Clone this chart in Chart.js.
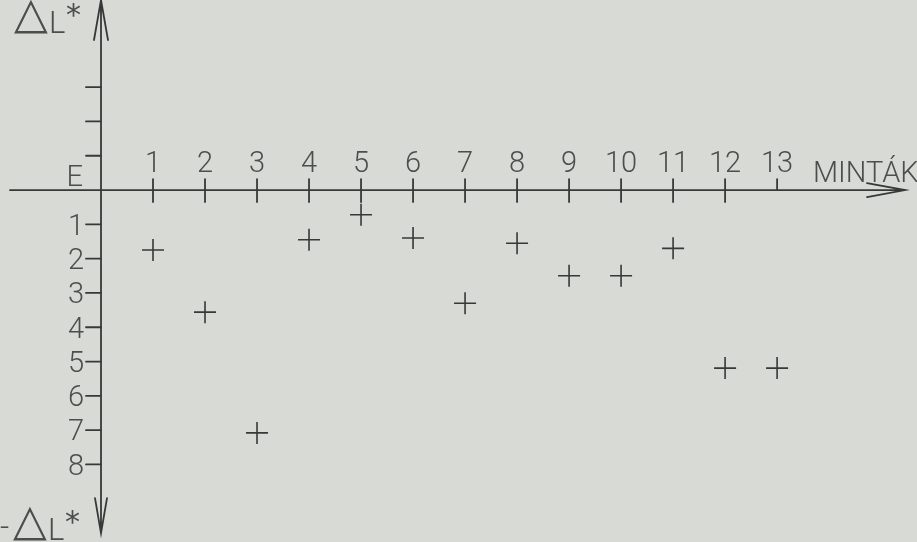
<!DOCTYPE html>
<html>
<head>
<meta charset="utf-8">
<script src="https://cdn.jsdelivr.net/npm/chart.js@4/dist/chart.umd.min.js"></script>
<style>
html,body{margin:0;padding:0;background:#d8dad6;}
#c{display:block;}
</style>
</head>
<body>
<canvas id="c" width="917" height="542"></canvas>
<script>
// ---- data ----
const samples = [1, 2, 3, 4, 5, 6, 7, 8, 9, 10, 11, 12, 13];
const deltaL = [-1.75, -3.56, -7.08, -1.45, -0.72, -1.40, -3.30, -1.55, -2.50, -2.50, -1.70, -5.19, -5.19];
const xTickLabels = ['1','2','3','4','5','6','7','8','9','10','11','12','13'];
const yTickValuesNeg = [-1, -2, -3, -4, -5, -6, -7, -8];
const yTickLabelsNeg = ['1','2','3','4','5','6','7','8'];
const yTickValuesPos = [1, 2, 3];
const yTickLabelsPos = ['E', '', ''];
const xAxisTitle = 'MINTÁK';

const INK = '#383838';
const TXT = '#4c4e4c';
const FONT = '300 29px Roboto, "DejaVu Sans", sans-serif';

function drawDeltaL(c, x, yBase, minus) {
  // draws (-)△L* ; x = left edge of triangle, yBase = baseline
  c.textAlign = 'left';
  c.textBaseline = 'alphabetic';
  if (minus) {
    c.font = '300 32px Roboto, sans-serif';
    c.fillText('-', x - 15, yBase - 3);
  }
  c.font = '44px "DejaVu Sans", sans-serif';
  c.fillText('△', x - 2, yBase - 5);
  c.font = '300 31px Roboto, sans-serif';
  c.fillText('L', x + 33, yBase);
  c.font = '400 30px "DejaVu Sans", sans-serif';
  c.fillText('*', x + 50, yBase - 8);
}

const axesPlugin = {
  id: 'handAxes',
  beforeDraw(chart) {
    const c = chart.ctx;
    c.save();
    c.fillStyle = '#d8dad6';
    c.fillRect(0, 0, chart.width, chart.height);
    c.restore();
  },
  beforeDatasetsDraw(chart) {
    const c = chart.ctx;
    const xs = chart.scales.x, ys = chart.scales.y;
    const X = v => xs.getPixelForValue(v);
    const Y = v => ys.getPixelForValue(v);
    const x0 = X(0), y0 = Y(0);
    c.save();
    c.strokeStyle = INK;
    c.lineWidth = 1.8;
    c.lineCap = 'round';
    // x axis
    const xStart = X(-1.75), xEnd = X(15.46);
    c.beginPath();
    c.moveTo(xStart, y0); c.lineTo(xEnd, y0);
    c.moveTo(xEnd - 38, y0 - 7); c.lineTo(xEnd, y0); c.lineTo(xEnd - 38, y0 + 7);
    c.stroke();
    // y axis
    const yTop = Y(5.54), yBot = Y(-10.0);
    c.beginPath();
    c.moveTo(x0, yTop); c.lineTo(x0, yBot);
    c.moveTo(x0 - 7, yTop + 40); c.lineTo(x0, yTop); c.lineTo(x0 + 7, yTop + 40);
    c.moveTo(x0 - 6, yBot - 35); c.lineTo(x0, yBot); c.lineTo(x0 + 6, yBot - 35);
    c.stroke();
    // x ticks
    c.beginPath();
    samples.forEach((s, i) => {
      const px = X(s);
      const below = i === samples.length - 1 ? 0 : 12;
      c.moveTo(px, y0 - 11); c.lineTo(px, y0 + below);
    });
    // y ticks
    yTickValuesNeg.concat(yTickValuesPos).forEach(v => {
      const py = Y(v);
      c.moveTo(x0 - 15, py); c.lineTo(x0, py);
    });
    c.stroke();
    // labels
    c.fillStyle = TXT;
    c.font = FONT;
    c.textAlign = 'center';
    c.textBaseline = 'alphabetic';
    xTickLabels.forEach((t, i) => {
      c.fillText(t, X(samples[i]), y0 - 18);
    });
    c.textAlign = 'right';
    c.textBaseline = 'middle';
    yTickLabelsNeg.forEach((t, i) => {
      c.fillText(t, x0 - 17, Y(yTickValuesNeg[i]) + 3);
    });
    c.textBaseline = 'alphabetic';
    yTickLabelsPos.forEach((t, i) => {
      if (t) c.fillText(t, x0 - 18, Y(yTickValuesPos[i]) + 30);
    });
    // axis titles
    c.textAlign = 'left';
    c.fillText(xAxisTitle, 813, y0 - 8);
    drawDeltaL(c, 16, 33, false);
    drawDeltaL(c, 15, 540, true);
    c.restore();
  }
};

new Chart(document.getElementById('c'), {
  type: 'scatter',
  data: {
    datasets: [{
      data: samples.map((s, i) => ({ x: s, y: deltaL[i] })),
      pointStyle: 'cross',
      pointRadius: 11,
      pointBorderWidth: 1.6,
      borderColor: INK,
      backgroundColor: INK,
      showLine: false
    }]
  },
  options: {
    responsive: false,
    animation: false,
    layout: { padding: 0, autoPadding: false },
    plugins: { legend: { display: false }, tooltip: { enabled: false } },
    scales: {
      x: { type: 'linear', min: -1.942, max: 15.69, display: false },
      y: { type: 'linear', min: -10.26, max: 5.54, display: false }
    }
  },
  plugins: [axesPlugin]
});
</script>
</body>
</html>
